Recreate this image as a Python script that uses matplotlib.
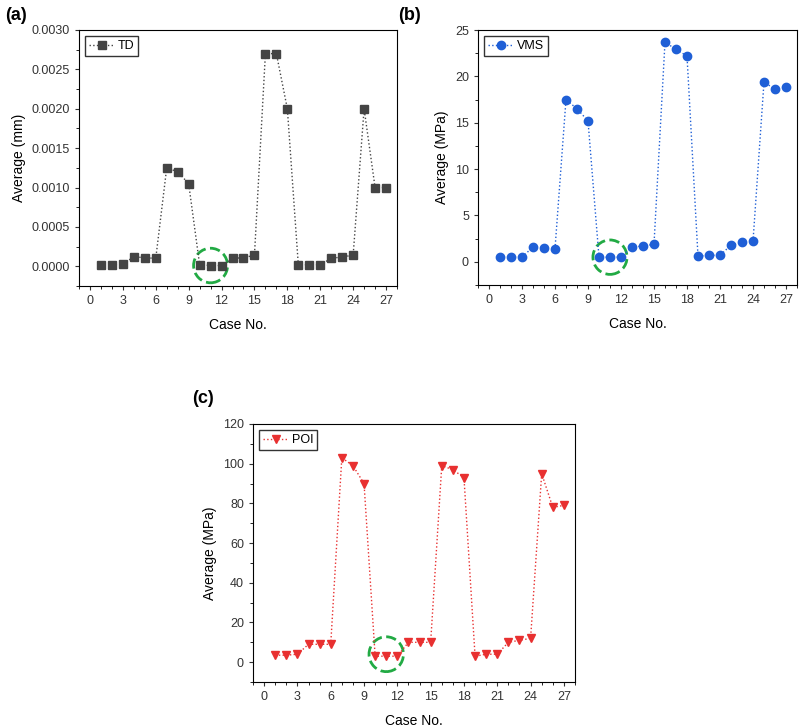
import matplotlib
matplotlib.use("Agg")
import matplotlib.pyplot as plt
from matplotlib.patches import Ellipse
from matplotlib.ticker import MultipleLocator, AutoMinorLocator

case_no = list(range(1, 28))
td = [0.00002, 0.00002, 0.00003, 0.00012, 0.00011, 0.00010, 0.00125, 0.00120, 0.00105,
      0.00002, 0.00001, 0.00001, 0.00010, 0.00011, 0.00014, 0.00270, 0.00270, 0.00200,
      0.00002, 0.00002, 0.00002, 0.00010, 0.00012, 0.00014, 0.00200, 0.00100, 0.00100]
vms = [0.5, 0.5, 0.5, 1.6, 1.5, 1.4, 17.5, 16.5, 15.2,
       0.5, 0.5, 0.5, 1.6, 1.7, 1.9, 23.7, 22.9, 22.2,
       0.6, 0.7, 0.7, 1.8, 2.1, 2.2, 19.4, 18.6, 18.8]
poi = [3.5, 3.5, 4, 9, 9, 9, 103, 99, 90,
       3, 3, 3, 10, 10, 10, 99, 97, 93,
       3, 4, 4, 10, 11, 12, 95, 78, 79]

plt.rcParams["font.family"] = ["Liberation Sans", "DejaVu Sans"]
fig = plt.figure(figsize=(8, 7.27), dpi=100)
W, H = 800, 727


def add_axes(l, r, t, b):
    return fig.add_axes([l / W, 1 - b / H, (r - l) / W, (b - t) / H])


def panel(ax, y, color, marker, label, ylim, ystep, ylabel, circle_y, fmt=None):
    ax.plot(case_no, y, linestyle=":", color=color, marker=marker, markersize=6,
            linewidth=1, label=label)
    ax.set_xlim(-1, 28)
    ax.set_ylim(*ylim)
    ax.xaxis.set_major_locator(MultipleLocator(3))
    ax.xaxis.set_minor_locator(MultipleLocator(1))
    ax.yaxis.set_major_locator(MultipleLocator(ystep))
    ax.yaxis.set_minor_locator(AutoMinorLocator(2))
    ax.tick_params(labelsize=9, length=3, colors="#333333")
    ax.tick_params(which="minor", length=2)
    if fmt:
        ax.yaxis.set_major_formatter(fmt)
    ax.set_xlabel("Case No.", fontsize=10, labelpad=8)
    ax.set_ylabel(ylabel, fontsize=10)
    ax.legend(loc="upper left", fontsize=9, frameon=True, fancybox=False,
              edgecolor="black", handlelength=2, borderpad=0.3, handletextpad=0.3)
    span = ylim[1] - ylim[0]
    ax.add_patch(Ellipse((11, circle_y), 3.1, span * 0.135, fill=False,
                         edgecolor="#22aa44", linestyle="--", linewidth=2))


ax1 = add_axes(79, 397, 30, 286)
panel(ax1, td, "#444444", "s", "TD", (-0.00025, 0.003), 0.0005, "Average (mm)", 0.00001,
      fmt=matplotlib.ticker.FormatStrFormatter("%.4f"))
ax2 = add_axes(478, 797, 30, 285)
panel(ax2, vms, "#1f5fd6", "o", "VMS", (-2.5, 25), 5, "Average (MPa)", 0.5)
ax3 = add_axes(253, 575, 424, 682)
panel(ax3, poi, "#e83030", "v", "POI", (-10, 120), 20, "Average (MPa)", 4)

fig.text(5 / W, 1 - 15 / H, "(a)", fontsize=13, fontweight="bold", va="center")
fig.text(398 / W, 1 - 15 / H, "(b)", fontsize=13, fontweight="bold", va="center")
fig.text(192 / W, 1 - 398 / H, "(c)", fontsize=13, fontweight="bold", va="center")

fig.savefig("out.png", dpi=100)
